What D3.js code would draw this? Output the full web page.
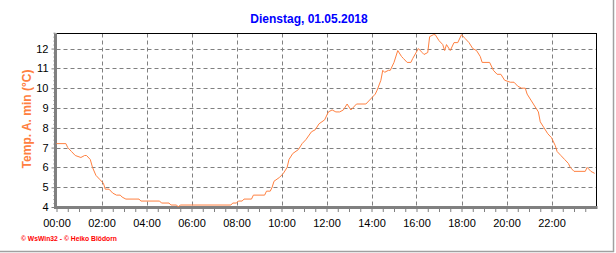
<!DOCTYPE html>
<html><head><meta charset="utf-8">
<script src="https://cdn.jsdelivr.net/npm/d3@7"></script>
<style>html,body{margin:0;padding:0;background:#fff;}svg{display:block;}</style>
</head><body>
<script>
const title = "Dienstag, 01.05.2018";
const yTitle = "Temp. A. min (°C)";
const footer = "© WsWin32 - © Heiko Blödorn";
const xTickLabels = ["00:00","02:00","04:00","06:00","08:00","10:00","12:00","14:00","16:00","18:00","20:00","22:00"];
const yTickValues = [4,5,6,7,8,9,10,11,12];
const times = ["00:00","00:25","00:30","00:40","00:50","01:05","01:15","01:20","01:30","01:36","01:45","01:55","02:05","02:10","02:20","02:30","02:40","02:50","02:55","03:05","03:40","03:45","04:35","04:40","05:00","05:05","05:20","05:25","05:30","07:45","07:50","08:00","08:05","08:15","08:20","08:40","08:45","09:15","09:20","09:30","09:35","09:40","09:55","10:05","10:15","10:20","10:30","10:45","10:55","11:05","11:20","11:30","11:40","11:55","12:05","12:15","12:25","12:35","12:45","12:55","13:05","13:10","13:20","13:45","13:55","14:10","14:15","14:25","14:30","14:35","14:45","14:50","15:00","15:10","15:20","15:25","15:35","15:45","15:50","16:05","16:15","16:20","16:30","16:35","16:45","16:50","17:00","17:10","17:15","17:20","17:30","17:40","17:50","18:00","18:10","18:20","18:30","18:40","18:50","18:55","19:15","19:25","19:35","19:45","19:55","20:10","20:20","20:30","20:40","20:50","20:55","21:05","21:15","21:25","21:30","21:40","21:50","22:00","22:10","22:15","22:25","22:35","22:45","22:50","23:00","23:30","23:35","23:45","23:55"];
const temps = [7.2,7.2,7.0,6.8,6.6,6.5,6.6,6.6,6.4,6.0,5.6,5.4,5.2,4.9,4.9,4.7,4.6,4.6,4.5,4.4,4.4,4.3,4.3,4.2,4.2,4.1,4.1,4.0,4.1,4.1,4.2,4.2,4.3,4.3,4.4,4.4,4.6,4.6,4.8,4.8,5.0,5.3,5.5,5.7,6.0,6.4,6.7,6.9,7.2,7.4,7.8,7.9,8.2,8.4,8.8,8.9,8.8,8.8,8.9,9.2,8.9,9.0,9.2,9.2,9.4,9.7,9.9,10.4,10.9,10.8,10.9,10.9,11.3,11.9,11.6,11.5,11.3,11.3,11.5,12.0,11.8,11.7,11.8,12.6,12.7,12.7,12.4,12.2,11.9,12.2,11.9,12.3,12.3,12.7,12.5,12.3,12.0,11.9,11.6,11.3,11.3,10.9,10.7,10.7,10.4,10.3,10.3,10.1,10.0,10.0,9.7,9.4,9.1,8.8,8.3,8.0,7.7,7.5,7.1,6.8,6.6,6.4,6.2,6.0,5.8,5.8,6.0,5.8,5.7];

const W = 616, H = 253;
const L = 56.5, R = 596.5, T = 33.5, B = 207;
const toH = s => { const [h,m] = s.split(":").map(Number); return h + m/60; };
const data = times.map((t,i) => ({h: toH(t), v: temps[i]}));

const x = d3.scaleLinear().domain([0,24]).range([L,R]);
const y = d3.scaleLinear().domain([4,12.76]).range([B,T]);

const svg = d3.select("body").append("svg").attr("width",W).attr("height",H)
  .style("font-family","'Liberation Sans', Arial, sans-serif");

// outer frame lines
svg.append("line").attr("x1",0).attr("x2",614).attr("y1",251.5).attr("y2",251.5).attr("stroke","#a0a0a0").attr("stroke-width",1.5);
svg.append("line").attr("x1",613.5).attr("x2",613.5).attr("y1",0).attr("y2",252).attr("stroke","#a0a0a0").attr("stroke-width",1.5);

// title
svg.append("text").attr("x",309).attr("y",23).attr("text-anchor","middle")
  .attr("fill","#0000ff").attr("font-weight","bold").attr("font-size",12).text(title);

// grid
const grid = svg.append("g").attr("stroke","#808080").attr("stroke-width",1).attr("stroke-dasharray","4,3");
d3.range(2,24,2).forEach(h => grid.append("line").attr("x1",Math.round(x(h))+0.5).attr("x2",Math.round(x(h))+0.5).attr("y1",T).attr("y2",B));
yTickValues.slice(1).forEach(v => grid.append("line").attr("x1",L).attr("x2",R).attr("y1",Math.round(y(v))+0.5).attr("y2",Math.round(y(v))+0.5));

// top and right borders
svg.append("line").attr("x1",L).attr("x2",R+0.5).attr("y1",T).attr("y2",T).attr("stroke","#000");
svg.append("line").attr("x1",R).attr("x2",R).attr("y1",T).attr("y2",B).attr("stroke","#000");

// x axis
const xAxis = d3.axisBottom(x).tickValues(d3.range(0,24,2)).tickFormat((d,i)=>xTickLabels[i]).tickSize(4).tickPadding(7);
const gx = svg.append("g").attr("transform",`translate(0,${B+1})`).call(xAxis);
gx.select(".domain").remove();
gx.selectAll(".tick line").attr("stroke","#808080");
gx.selectAll("text").attr("font-size",11).attr("fill","#000").style("font-family","'Liberation Sans', Arial, sans-serif");
const xMinor = d3.axisBottom(x).tickValues(d3.range(0,24,0.5).filter(h=>h%2!==0)).tickFormat("").tickSize(4);
const gxm = svg.append("g").attr("transform",`translate(0,${B+1})`).call(xMinor);
gxm.select(".domain").remove();
gxm.selectAll(".tick line").attr("stroke","#808080");
svg.append("line").attr("x1",L-1.5).attr("x2",R+1).attr("y1",B+0.5).attr("y2",B+0.5).attr("stroke","#808080").attr("stroke-width",3);

// y axis
const yAxis = d3.axisLeft(y).tickValues(yTickValues).tickFormat(d3.format("d")).tickSize(4).tickPadding(3);
const gy = svg.append("g").attr("transform",`translate(${L-1},0)`).call(yAxis);
gy.select(".domain").remove();
gy.selectAll(".tick line").attr("stroke","#808080");
gy.selectAll("text").attr("font-size",11).attr("fill","#000").style("font-family","'Liberation Sans', Arial, sans-serif");
const yMinor = d3.axisLeft(y).tickValues(d3.range(4.2,12.8,0.2).filter(v=>Math.abs(v-Math.round(v))>0.05)).tickFormat("").tickSize(2);
const gym = svg.append("g").attr("transform",`translate(${L-1},0)`).call(yMinor);
gym.select(".domain").remove();
gym.selectAll(".tick line").attr("stroke","#808080");
svg.append("line").attr("x1",L-1).attr("x2",L-1).attr("y1",T).attr("y2",B+2).attr("stroke","#808080").attr("stroke-width",3);

// y title
svg.append("text").attr("transform","translate(31,119) rotate(-90)").attr("text-anchor","middle")
  .attr("fill","#ff8040").attr("font-weight","bold").attr("font-size",12).text(yTitle);

// line
svg.append("path").datum(data).attr("fill","none").attr("stroke","#ff8040").attr("stroke-width",1)
  .attr("d", d3.line().x(d=>x(d.h)).y(d=>y(d.v)));

// footer
svg.append("text").attr("x",21).attr("y",241).attr("fill","#ff0000").attr("font-weight","bold")
  .attr("font-size",7.5).attr("textLength",96).attr("lengthAdjust","spacingAndGlyphs").text(footer);
</script>
</body></html>
